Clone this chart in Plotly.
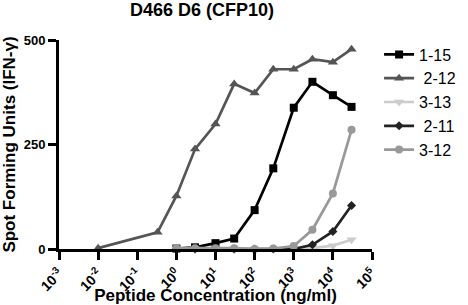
import plotly.graph_objects as go

conc_a = [0.01, 0.33, 1, 3, 10, 30, 100, 300, 1000, 3000, 10000, 30000]
conc_b = [1, 3, 10, 30, 100, 300, 1000, 3000, 10000, 30000]

s_1_15 = [1, 4, 14, 25, 93, 193, 338, 400, 368, 340]
s_2_12 = [2, 40, 127, 239, 299, 395, 373, 430, 430, 454, 447, 478]
s_3_13 = [0, 0, 0, 0, 0, 0, 0, 2, 8, 22]
s_2_11 = [0, 0, 0, 0, 0, 0, 0, 10, 42, 104]
s_3_12 = [2, 2, 2, 2, 0, 1, 7, 46, 133, 285]

x_tickvals = [1e-3, 1e-2, 1e-1, 1, 10, 100, 1e3, 1e4, 1e5]
x_ticktext = ["<b>10<sup>-3</sup></b>", "<b>10<sup>-2</sup></b>", "<b>10<sup>-1</sup></b>",
              "<b>10<sup>0</sup></b>", "<b>10<sup>1</sup></b>", "<b>10<sup>2</sup></b>",
              "<b>10<sup>3</sup></b>", "<b>10<sup>4</sup></b>", "<b>10<sup>5</sup></b>"]
y_tickvals = [0, 250, 500]

FONT = "Liberation Sans, Arial, sans-serif"

series = [
    ("1-15", conc_b, s_1_15, "#000000", "square", 8),
    (" 2-12", conc_a, s_2_12, "#555555", "triangle-up", 9),
    ("3-13", conc_b, s_3_13, "#cccccc", "triangle-down", 9),
    (" 2-11", conc_b, s_2_11, "#222222", "diamond", 7),
    ("3-12", conc_b, s_3_12, "#999999", "circle", 8),
]

fig = go.Figure()
for i, (name, xs, ys, col, sym, ms) in enumerate(series):
    fig.add_trace(go.Scatter(
        x=xs, y=ys, name=name, mode="lines+markers",
        line=dict(color=col, width=2.7),
        marker=dict(symbol=sym, size=ms, color=col),
        legendgroup=str(i), cliponaxis=False,
    ))

fig.update_layout(
    width=468, height=305,
    margin=dict(l=59, r=96, t=40, b=56, autoexpand=False),
    paper_bgcolor="white", plot_bgcolor="white",
    font=dict(family=FONT, color="#000000"),
    title=dict(text="<b>D466 D6 (CFP10)</b>", x=0.457, xref="paper", xanchor="center",
               y=0.968, yref="container", yanchor="middle", font=dict(size=18)),
    showlegend=True,
    legend=dict(x=0.81, y=0.877, xref="container", yref="container",
                xanchor="left", yanchor="top", font=dict(size=16),
                tracegroupgap=0, bgcolor="rgba(0,0,0,0)"),
)
fig.update_xaxes(
    type="log", range=[-3, 5], tickvals=x_tickvals, ticktext=x_ticktext, tickangle=-45,
    showgrid=False, zeroline=False, showline=True, linecolor="black", linewidth=3,
    ticks="outside", ticklen=8, tickwidth=2.5, tickcolor="black",
    tickfont=dict(size=14), automargin=False,
    title=dict(text="<b>Peptide Concentration (ng/ml)</b>", font=dict(size=17), standoff=0),
)
fig.update_yaxes(
    range=[0, 500], tickvals=y_tickvals,
    showgrid=False, zeroline=False, showline=True, linecolor="black", linewidth=3,
    ticks="outside", ticklen=8, tickwidth=2.5, tickcolor="black",
    tickfont=dict(size=13, weight="bold"), automargin=False,
    title=dict(text="<b>Spot Forming Units (IFN-γ)</b>", font=dict(size=17), standoff=10),
)

fig.write_html("out.html", config={"displayModeBar": False},
               post_script="document.body.style.margin='0';")
